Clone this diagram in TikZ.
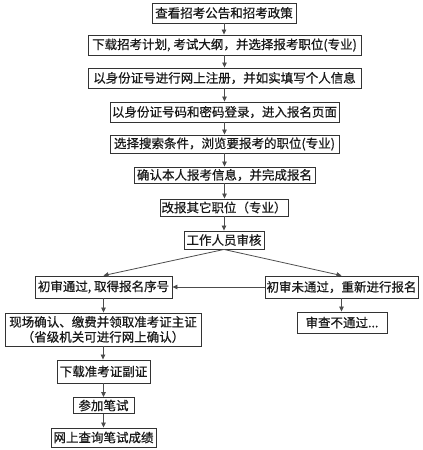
\documentclass[tikz,border=0pt]{standalone}
\usepackage{fontspec}
\setmainfont{Noto Sans CJK SC}[FakeBold=0.6]
\usetikzlibrary{arrows.meta}
\tikzset{
  box/.style={draw=black!80, line width=0.9pt, fill=white, inner sep=0pt, font=\fontsize{12.5}{15}\selectfont, text=black!90},
  arr/.style={draw=black!70, line width=0.8pt, -{Triangle[length=5pt,width=4.5pt]}}
}
\begin{document}
\begin{tikzpicture}[x=1pt,y=-1pt]
\useasboundingbox (0,0) rectangle (423,450);
\node[box, minimum width=144pt, minimum height=20pt] (b1) at (224,13) {查看招考公告和招考政策};
\node[box, minimum width=273pt, minimum height=20pt] (b2) at (224.5,45) {下载招考计划, 考试大纲，并选择报考职位(专业)};
\node[box, minimum width=273pt, minimum height=20pt] (b3) at (224.5,78) {以身份证号进行网上注册，并如实填写个人信息};
\node[box, minimum width=229pt, minimum height=20pt] (b4) at (224.5,112) {以身份证号码和密码登录，进入报名页面};
\node[box, minimum width=229pt, minimum height=18pt] (b5) at (224.5,144) {选择搜索条件，浏览要报考的职位(专业)};
\node[box, minimum width=181pt, minimum height=16pt] (b6) at (224.5,175) {确认本人报考信息，并完成报名};
\node[box, minimum width=128pt, minimum height=17pt] (b7) at (224,207.5) {改报其它职位（专业）};
\node[box, minimum width=80pt, minimum height=18pt] (b8) at (224,240) {工作人员审核};
\node[box, minimum width=137pt, minimum height=22pt] (b9) at (103.5,287) {初审通过, 取得报名序号};
\node[box, minimum width=153pt, minimum height=22pt] (b10) at (341.5,287) {初审未通过，重新进行报名};
\node[box, minimum width=196pt, minimum height=33pt, align=center] (b11) at (103,329.5) {现场确认、缴费并领取准考证主证\\（省级机关可进行网上确认）};
\node[box, minimum width=90pt, minimum height=21pt] (b12) at (342,322.5) {审查不通过...};
\node[box, minimum width=93pt, minimum height=23pt] (b13) at (103.5,371.5) {下载准考证副证};
\node[box, minimum width=61pt, minimum height=16pt] (b14) at (103.5,405.5) {参加笔试};
\node[box, minimum width=105pt, minimum height=19pt] (b15) at (103.5,437.5) {网上查询笔试成绩};
\draw[arr] (b1.south) -- (b1.south |- b2.north);
\draw[arr] (b2.south) -- (b2.south |- b3.north);
\draw[arr] (b3.south) -- (b3.south |- b4.north);
\draw[arr] (b4.south) -- (b4.south |- b5.north);
\draw[arr] (b5.south) -- (b5.south |- b6.north);
\draw[arr] (b6.south) -- (b6.south |- b7.north);
\draw[arr] (b7.south) -- (b7.south |- b8.north);
\draw[arr] (b8.south) -- (b9.north);
\draw[arr] (b8.south) -- (b10.north);
\draw[arr] (b10.west) -- (b9.east);
\draw[arr] (b9.south) -- (b9.south |- b11.north);
\draw[arr] (b10.south) -- (b10.south |- b12.north);
\draw[arr] (b11.south) -- (b11.south |- b13.north);
\draw[arr] (b13.south) -- (b13.south |- b14.north);
\draw[arr] (b14.south) -- (b14.south |- b15.north);
\end{tikzpicture}
\end{document}
